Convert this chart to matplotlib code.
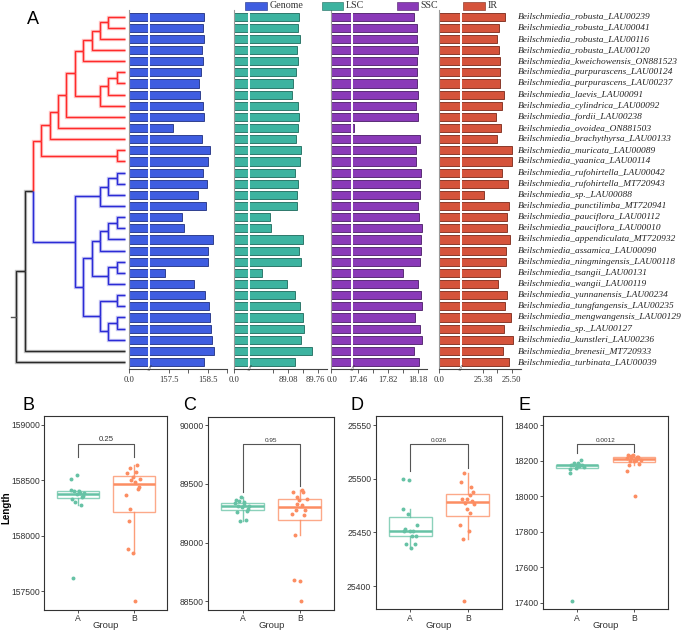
import numpy as np
import matplotlib
matplotlib.use("Agg")
import matplotlib.pyplot as plt
from matplotlib.patches import Rectangle
from matplotlib.colors import to_rgba
from matplotlib.transforms import blended_transform_factory, ScaledTranslation

# ---------------- data ----------------
species = [
    "Beilschmiedia_robusta_LAU00239", "Beilschmiedia_robusta_LAU00041",
    "Beilschmiedia_robusta_LAU00116", "Beilschmiedia_robusta_LAU00120",
    "Beilschmiedia_kweichowensis_ON881523", "Beilschmiedia_purpurascens_LAU00124",
    "Beilschmiedia_purpurascens_LAU00237", "Beilschmiedia_laevis_LAU00091",
    "Beilschmiedia_cylindrica_LAU00092", "Beilschmiedia_fordii_LAU00238",
    "Beilschmiedia_ovoidea_ON881503", "Beilschmiedia_brachythyrsa_LAU00133",
    "Beilschmiedia_muricata_LAU00089", "Beilschmiedia_yaanica_LAU00114",
    "Beilschmiedia_rufohirtella_LAU00042", "Beilschmiedia_rufohirtella_MT720943",
    "Beilschmiedia_sp._LAU00088", "Beilschmiedia_punctilimba_MT720941",
    "Beilschmiedia_pauciflora_LAU00112", "Beilschmiedia_pauciflora_LAU00010",
    "Beilschmiedia_appendiculata_MT720932", "Beilschmiedia_assamica_LAU00090",
    "Beilschmiedia_ningmingensis_LAU00118", "Beilschmiedia_tsangii_LAU00131",
    "Beilschmiedia_wangii_LAU00119", "Beilschmiedia_yunnanensis_LAU00234",
    "Beilschmiedia_tungfangensis_LAU00235", "Beilschmiedia_mengwangensis_LAU00129",
    "Beilschmiedia_sp._LAU00127", "Beilschmiedia_kunstleri_LAU00236",
    "Beilschmiedia_brenesii_MT720933", "Beilschmiedia_turbinata_LAU00039",
]
genome_bp = [158410, 158385, 158400, 158360, 158375, 158335, 158275, 158305,
             158385, 158400, 157620, 158350, 158545, 158515, 158370, 158490,
             158245, 158445, 157842, 157885, 158635, 158505, 158515, 157412,
             158135, 158420, 158530, 158565, 158575, 158615, 158665, 158410]
lsc_bp = [89335, 89320, 89350, 89286, 89300, 89257, 89193, 89180,
          89314, 89342, 89308, 89270, 89384, 89363, 89244, 89320,
          89276, 89278, 88675, 88685, 89427, 89329, 89370, 88500,
          89068, 89235, 89363, 89427, 89448, 89384, 89618, 89235]
ssc_bp = [18131, 18170, 18173, 18178, 18173, 18173, 18173, 18185,
          18162, 18185, 17410, 18205, 18158, 18154, 18214, 18209,
          18200, 18182, 18197, 18233, 18221, 18221, 18205, 18000,
          18178, 18221, 18233, 18140, 18202, 18225, 18138, 18194]
ir_bp = [25472, 25447, 25439, 25447, 25451, 25451, 25451, 25467,
         25457, 25435, 25453, 25439, 25499, 25500, 25457, 25485,
         25386, 25488, 25481, 25481, 25492, 25477, 25476, 25451,
         25444, 25479, 25472, 25497, 25468, 25505, 25463, 25487]
clade = ["A"] * 14 + ["B"] * 16 + ["out"] * 2

# tree: (node level, child, child); leaves are row indices
red_0_4 = (5, (4, (3, (2, 0, 1), 2), 3), 4)
red_5_8 = (3, (2, (1, 5, 6), 7), 8)
red = (10, (9, (8, (7, (6, red_0_4, red_5_8), 9), 10), 11), (1, 12, 13))
blue_a = (3, (2, (1, 14, 15), 16), 17)
blue_b1 = (4, (3, (2, (1, 18, 19), 20), 21), (2, (1, 22, 23), 24))
blue_b2 = (3, (1, 25, 26), (2, (1, 27, 28), 29))
blue = (6, blue_a, (5, blue_b1, blue_b2))
tree = (13, (12, (11, red, blue), 30), 31)

legend_names = ["Genome", "LSC", "SSC", "IR"]
bar_colors = ["#3f5de0", "#3db3a0", "#8a3ab8", "#d5533b"]
edge_colors = ["#1f2f80", "#1d6a5c", "#4a1c66", "#7a2818"]
grp_colors = {"A": "#66C2A5", "B": "#FC8D62"}

# ---------------- figure ----------------
W, H = 685, 631
fig = plt.figure(figsize=(W / 100, H / 100), dpi=100)
serif = "Liberation Serif"
sans = "Liberation Sans"


def add_ax(x0, y0, x1, y1):
    return fig.add_axes([x0 / W, 1 - y1 / H, (x1 - x0) / W, (y1 - y0) / H])


ROW_TOP, ROW_BOT = 10.5, 369.3
YLIM = (31.65, -0.55)
rows = np.arange(len(species))

# ---- tree ----
ax_t = add_ax(0, ROW_TOP, 129, ROW_BOT)
ax_t.set_xlim(14.93, -0.478)
ax_t.set_ylim(*YLIM)
ax_t.axis("off")
tcol = {"A": "#ff2b2b", "B": "#2b2bd6", "out": "#2a2a2a"}


def leaves(n):
    if isinstance(n, int):
        return [n]
    return leaves(n[1]) + leaves(n[2])


def node_y(n):
    if isinstance(n, int):
        return float(n)
    return (node_y(n[1]) + node_y(n[2])) / 2


def node_x(n):
    return 0.0 if isinstance(n, int) else n[0]


def group_of(n):
    g = {clade[i] for i in leaves(n)}
    return g.pop() if len(g) == 1 else "out"


def draw_tree(n):
    if isinstance(n, int):
        return
    xp, yp = n[0], node_y(n)
    for c in n[1:]:
        yc, xc = node_y(c), node_x(c)
        col = tcol[group_of(c)]
        for lw, al in ((2.4, 0.28), (1.0, 1.0)):
            ax_t.plot([xp, xp, xc], [yp, yc, yc], color=col, lw=lw, alpha=al,
                      solid_capstyle="butt", solid_joinstyle="miter")
        draw_tree(c)


draw_tree(tree)
ax_t.plot([tree[0], 13.6], [node_y(tree)] * 2, color="#555555", lw=1.0)
fig.text(33 / W, 1 - 19 / H, "A", fontsize=13, family=sans, ha="center", va="center")


# ---- bar panels with broken axes ----
def broken(vb, gap, k):
    def fwd(v):
        v = np.asarray(v, dtype=float)
        return np.where(v < vb, v / vb * gap, gap + (v - vb) * k)

    def inv(p):
        p = np.asarray(p, dtype=float)
        return np.where(p < gap, p / gap * vb, vb + (p - gap) / k)
    return fwd, inv


panels = [
    # x0, x1, break px, break value, px per kb, ticks, labels
    (129.0, 227.3, 149.3, 157.0, 39.0, [0, 157.5, 158.0, 158.5, 159.0],
     ["0.0", "157.5", "", "158.5", ""]),
    (234.3, 326.5, 249.3, 88.203, 44.0, [0, 88.74, 89.08, 89.42, 89.76],
     ["0.0", "", "89.08", "", "89.76"]),
    (330.7, 427.3, 352.3, 17.389, 83.0, [0, 17.46, 17.64, 17.82, 18.00, 18.18],
     ["0.0", "17.46", "", "17.82", "", "18.18"]),
    (439.0, 520.5, 460.7, 25.287, 240.0, [0, 25.38, 25.44, 25.50],
     ["0.0", "25.38", "", "25.50"]),
]
series = [genome_bp, lsc_bp, ssc_bp, ir_bp]
bar_axes = []

for (x0, x1, xb, vb, k, ticks, labels), vals, col, ecol in zip(
        panels, series, bar_colors, edge_colors):
    ax = add_ax(x0, ROW_TOP, x1, ROW_BOT)
    bar_axes.append(ax)
    gap = xb - x0
    fwd, inv = broken(vb, gap, k)
    ax.set_xscale("function", functions=(fwd, inv))
    vmax = vb + ((x1 - x0) - gap) / k
    kb = np.asarray(vals) / 1000.0
    ax.barh(rows, kb, height=0.74, color=col, edgecolor=ecol, linewidth=0.6, zorder=2)
    ax.set_xlim(0, vmax)
    ax.set_ylim(*YLIM)
    ax.axvline(vb, color="white", lw=1.4, zorder=4)
    for s in ("top", "right"):
        ax.spines[s].set_visible(False)
    ax.spines["left"].set_color("#9a9a9a")
    ax.spines["left"].set_linewidth(0.8)
    ax.spines["bottom"].set_color("#444444")
    ax.spines["bottom"].set_linewidth(0.8)
    ax.set_yticks([])
    ax.set_xticks(ticks)
    ax.set_xticklabels(labels)
    ax.xaxis.set_minor_locator(matplotlib.ticker.NullLocator())
    ax.tick_params(axis="x", length=3, width=0.6, color="#444444", pad=2,
                   labelsize=6.2, labelcolor="#333333")
    for t in ax.get_xticklabels():
        t.set_family(serif)
    ax.text(vb, YLIM[0], "//", ha="center", va="center", fontsize=5.5,
            family=serif, color="#333333", zorder=5, style="italic")

# nudge the touching labels "89.76" | "0.0" apart slightly
lab_lsc = bar_axes[1].get_xticklabels()[-1]
lab_lsc.set_transform(lab_lsc.get_transform() + ScaledTranslation(-2 / 100, 0, fig.dpi_scale_trans))
lab_ssc = bar_axes[2].get_xticklabels()[0]
lab_ssc.set_transform(lab_ssc.get_transform() + ScaledTranslation(1.5 / 100, 0, fig.dpi_scale_trans))

# species labels
tr = blended_transform_factory(fig.transFigure, ax_t.transData)
for i, name in enumerate(species):
    fig.text(518 / W, 0, name, transform=tr, fontsize=6.75, family=serif,
             style="italic", ha="left", va="center", color="#222222").set_y(i)

# legend
leg_x = [(245, 267), (322, 343), (397, 418.3), (462.7, 485)]
for (a, b), name, col, ecol in zip(leg_x, legend_names, bar_colors, edge_colors):
    fig.add_artist(Rectangle((a / W, 1 - 9.5 / H), (b - a) / W, 7.5 / H,
                             transform=fig.transFigure, facecolor=col,
                             edgecolor=ecol, linewidth=0.4))
    fig.text((b + 2.5) / W, 1 - 6 / H, name, fontsize=7.2, family=serif,
             ha="left", va="center", color="#333333")

# ---------------- box plot panels ----------------
box_panels = [
    ("B", genome_bp, (44.3, 416, 167.3, 610), (157331, 159081),
     [157500, 158000, 158500, 159000], "0.25", (158826, 158714, 158714), 5.6, 28),
    ("C", lsc_bp, (208.3, 416.7, 334.3, 610), (88426, 90071),
     [88500, 89000, 89500, 90000], "0.95", (89836, 89432, 89480), 4.6, 190),
    ("D", ir_bp, (375.7, 416, 502.3, 609.3), (25378.3, 25558.4),
     [25400, 25450, 25500, 25550], "0.026", (25532, 25507, 25510), 4.6, 357),
    ("E", ssc_bp, (542.7, 416, 668.3, 609.3), (17364.6, 18450.6),
     [17400, 17600, 17800, 18000, 18200, 18400], "0.0012", (18292, 18244, 18250), 4.6, 524),
]

for label, vals, (x0, y0, x1, y1), ylim, yt, pval, (btop, bl, br), pfs, lx in box_panels:
    ax = add_ax(x0, y0, x1, y1)
    data = [[v for v, c in zip(vals, clade) if c == g] for g in ("A", "B")]
    bp = ax.boxplot(data, positions=[1, 2], widths=0.75, showfliers=False,
                    showcaps=False, patch_artist=True, whis=1.5, zorder=2)
    for j, g in enumerate(("A", "B")):
        c = grp_colors[g]
        bp["boxes"][j].set(facecolor="white", edgecolor=to_rgba(c, 0.75), linewidth=1.0)
        bp["medians"][j].set(color=c, linewidth=1.8)
        for w in bp["whiskers"][2 * j:2 * j + 2]:
            w.set(color=to_rgba(c, 0.85), linewidth=1.0)
        n = len(data[j])
        off = np.array([((i * 0.6180339887) % 1.0) - 0.5 for i in range(n)]) * 0.26
        ax.scatter(j + 1 + off, data[j], s=8, color=c, linewidths=0, zorder=3)
    ax.plot([1, 1, 2, 2], [bl, btop, btop, br], color="#555555", lw=0.8, zorder=4)
    yr = ylim[1] - ylim[0]
    ax.text(1.5, btop + yr * 0.008, pval, ha="center", va="bottom", fontsize=pfs,
            family=sans, color="#333333")
    ax.set_xlim(0.4, 2.6)
    ax.set_ylim(*ylim)
    ax.set_yticks(yt)
    ax.set_yticklabels([str(v) for v in yt])
    ax.set_xticks([1, 2])
    ax.set_xticklabels(["A", "B"])
    ax.tick_params(length=2.2, width=0.6, color="#333333", labelsize=6.2,
                   labelcolor="#333333", pad=1.0)
    for t in ax.get_xticklabels() + ax.get_yticklabels():
        t.set_family(sans)
    for s in ax.spines.values():
        s.set_linewidth(0.8)
        s.set_color("#333333")
    fig.text((x0 + x1) / 2 / W, 1 - 625.5 / H, "Group", fontsize=6.8, family=sans,
             color="#333333", ha="center", va="center")
    fig.text(lx / W, 1 - 406 / H, label, fontsize=13, family=sans,
             ha="center", va="center")

fig.text(6 / W, 1 - 508 / H, "Length", rotation=90, fontsize=7, family=sans,
         weight="bold", ha="center", va="center")

fig.savefig("out.png", dpi=100)
